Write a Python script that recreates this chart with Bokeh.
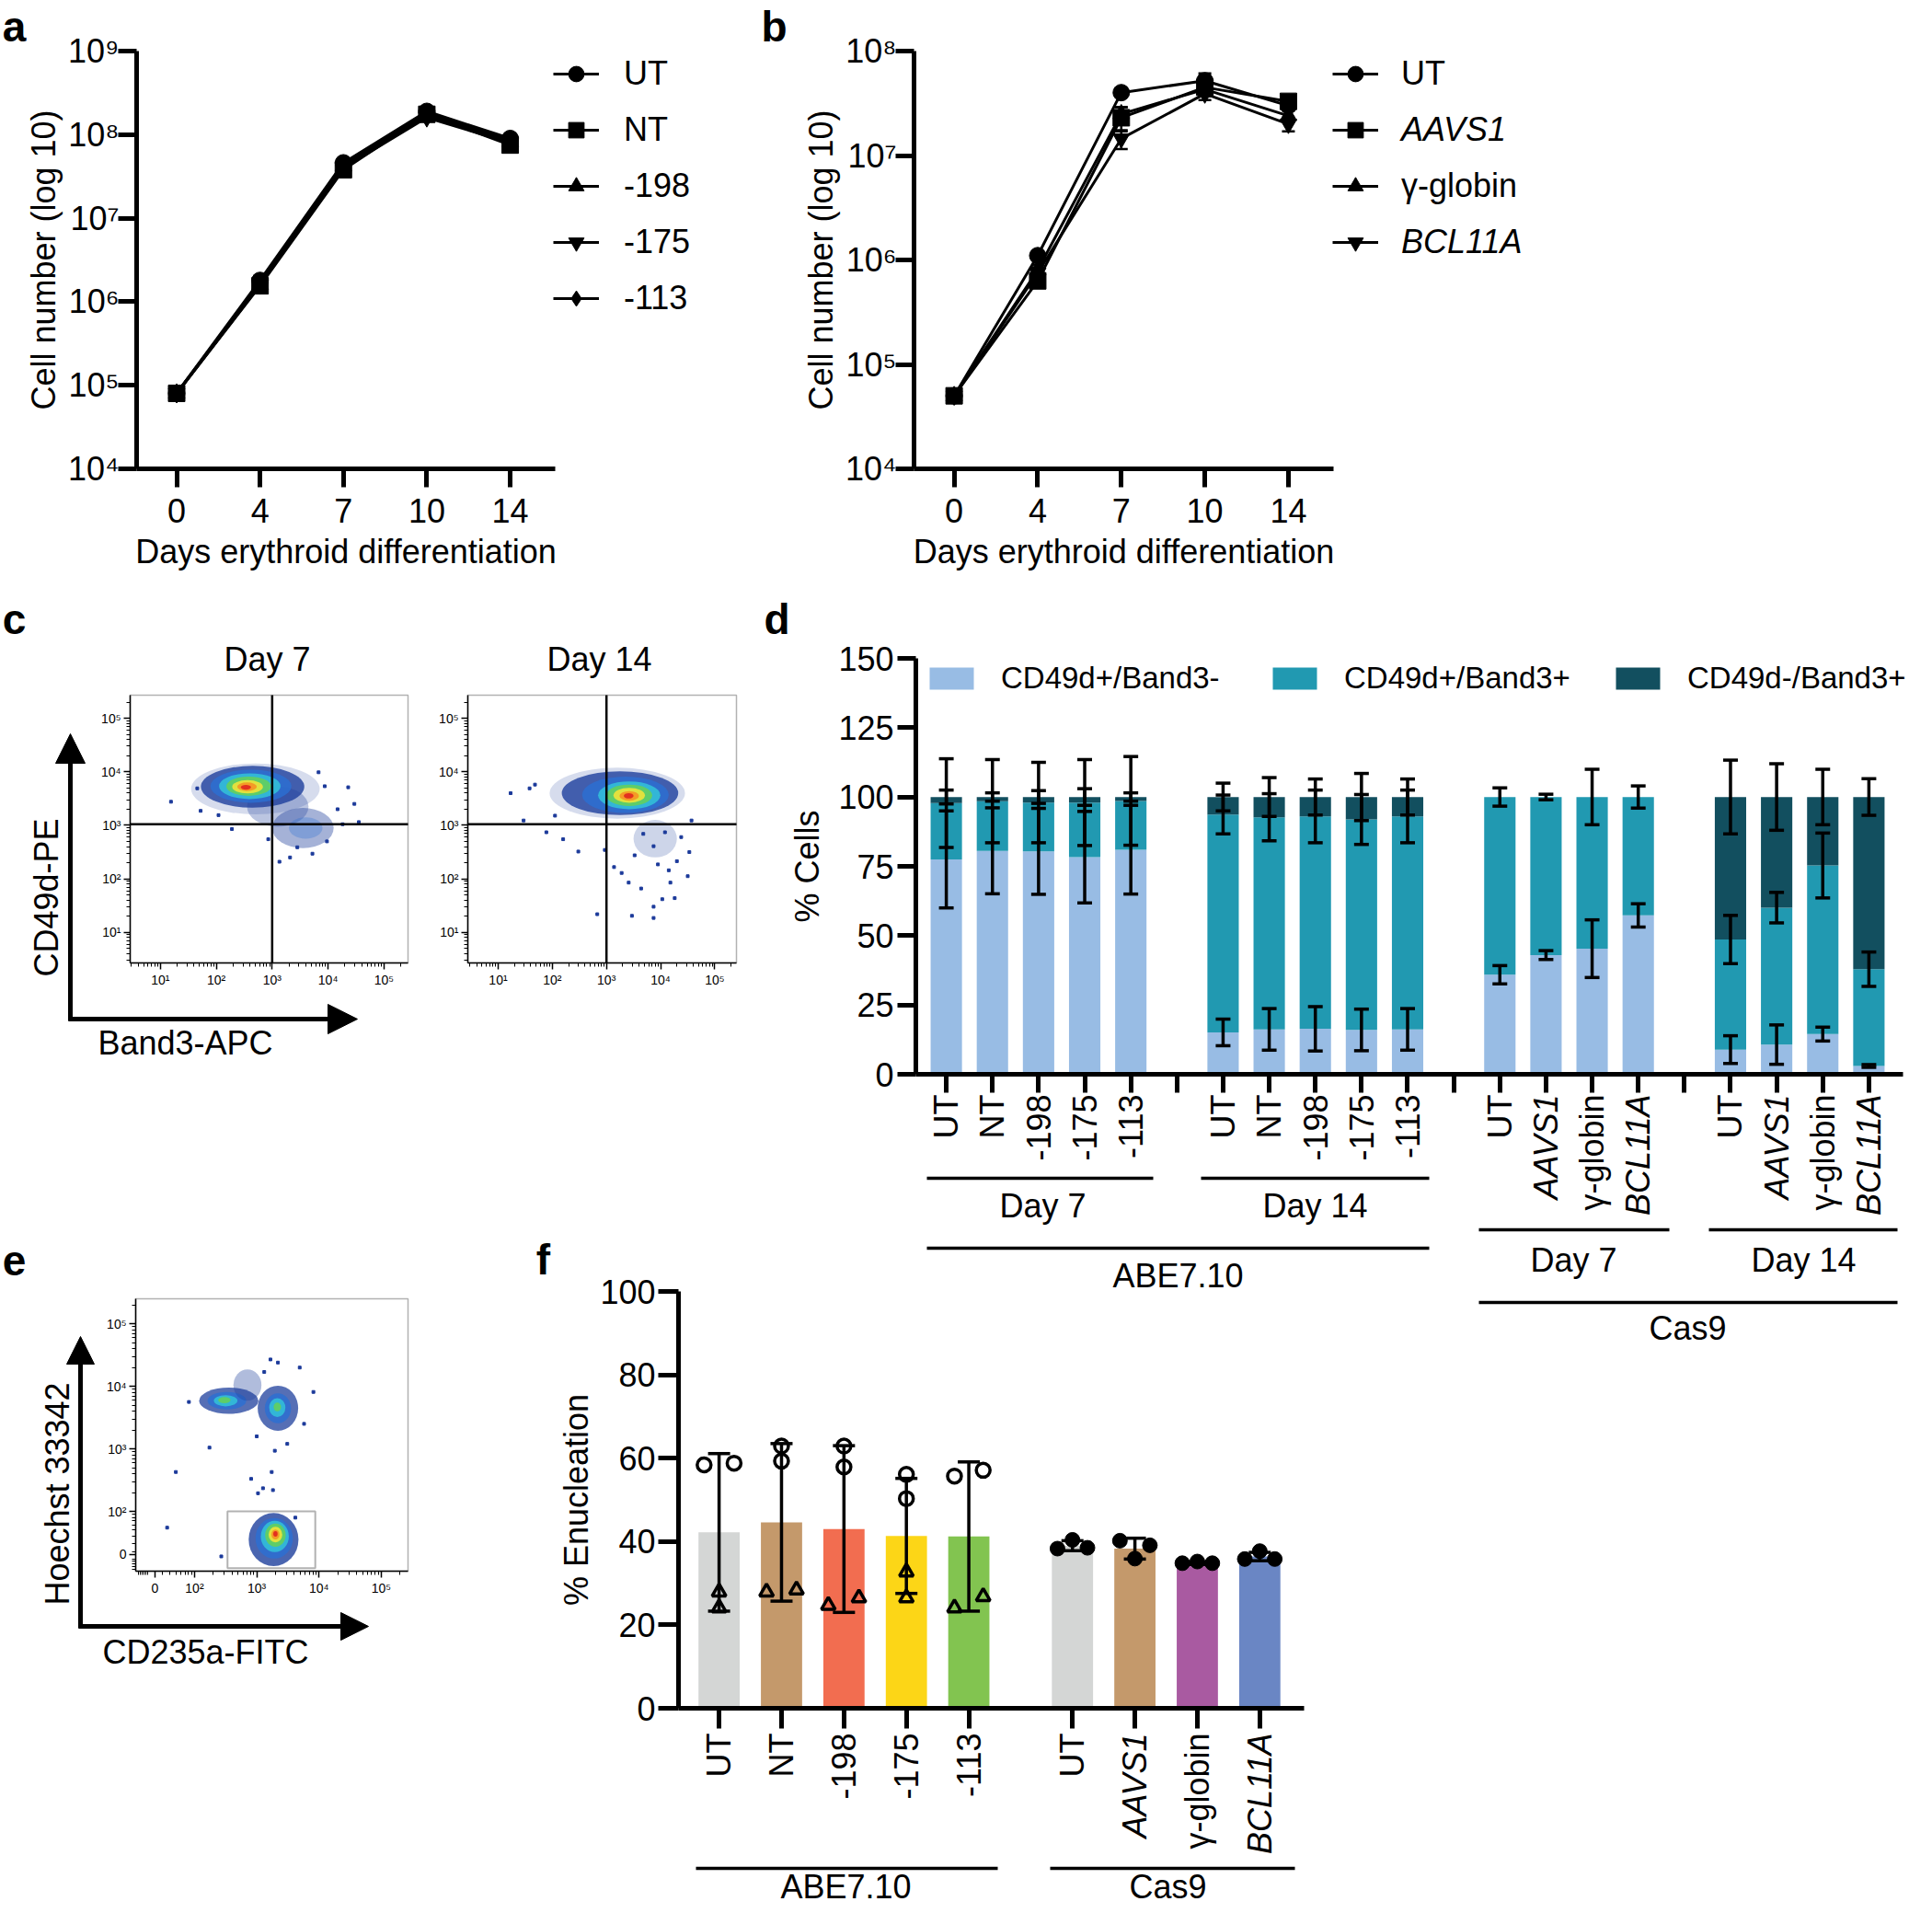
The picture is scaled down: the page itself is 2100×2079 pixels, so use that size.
import math
from bokeh.plotting import figure
from bokeh.layouts import row, column
from bokeh.models import (Range1d, FixedTicker, CustomJSTickFormatter, Legend, LegendItem,
                          Label, Arrow, NormalHead, TeeHead, Whisker, ColumnDataSource,
                          BoxAnnotation, LinearAxis, LogAxis)
from bokeh.embed import file_html
from bokeh.resources import INLINE

FONT = "Liberation Sans"
FS = "36px"
BLACK = "black"

# ======================= DATA =======================
days = ["0", "4", "7", "10", "14"]

# panel a
a_labels = ["UT", "NT", "-198", "-175", "-113"]
a_UT = [8.0e4, 1.8e6, 4.6e7, 1.9e8, 9.0e7]
a_NT = [8.0e4, 1.55e6, 3.8e7, 1.75e8, 7.5e7]
a_m198 = [8.0e4, 1.6e6, 4.2e7, 1.7e8, 8.2e7]
a_m175 = [8.0e4, 1.6e6, 4.0e7, 1.6e8, 8.0e7]
a_m113 = [8.0e4, 1.7e6, 4.4e7, 1.8e8, 8.5e7]

# panel b
b_labels = ["UT", "AAVS1", "γ-globin", "BCL11A"]
b_italic = [False, True, False, True]
b_UT = [5.0e4, 1.1e6, 4.0e7, 5.2e7, 3.0e7]
b_AAVS1 = [5.0e4, 6.3e5, 2.3e7, 4.5e7, 3.3e7]
b_globin = [5.0e4, 8.0e5, 2.5e7, 4.3e7, 2.4e7]
b_BCL11A = [5.0e4, 7.5e5, 1.45e7, 3.9e7, 2.0e7]
b_UT_sd = [0, 1.0e5, 3.0e6, 9.0e6, 3.0e6]
b_AAVS1_sd = [0, 8.0e4, 6.0e6, 8.0e6, 4.0e6]
b_globin_sd = [0, 1.0e5, 4.0e6, 6.0e6, 3.0e6]
b_BCL11A_sd = [0, 1.0e5, 3.0e6, 5.0e6, 3.0e6]

# panel c (flow cytometry, log10 units)
c_gate = [3.0, 3.02]
c7_blob_x = [2.70, 3.10, 3.55, 3.60, 2.65, 2.62, 2.60, 2.58, 2.56, 2.55, 2.53]
c7_blob_y = [3.68, 3.35, 2.95, 2.95, 3.72, 3.73, 3.73, 3.73, 3.72, 3.72, 3.71]
c7_blob_w = [2.30, 1.10, 1.10, 0.60, 1.85, 1.45, 1.10, 0.80, 0.55, 0.35, 0.18]
c7_blob_h = [0.95, 0.75, 0.75, 0.40, 0.78, 0.62, 0.48, 0.36, 0.25, 0.16, 0.09]
c7_blob_c = ["#1d3f9c", "#1d3f9c", "#1d3f9c", "#2b6fd3", "#1d3f9c", "#2b6fd3", "#33c3d8", "#63cf5d", "#efe33a", "#f69323", "#e02a1f"]
c7_blob_a = [0.18, 0.30, 0.40, 0.30, 0.80, 0.80, 0.85, 0.90, 0.90, 0.90, 0.95]
c7_pts_x = [1.19, 1.72, 1.66, 2.28, 3.13, 3.32, 3.72, 3.83, 4.36, 4.47, 4.55, 4.26, 3.98, 3.45, 2.93, 4.17, 3.94, 2.04]
c7_pts_y = [3.44, 3.27, 3.69, 2.93, 2.32, 2.40, 2.47, 3.99, 3.71, 3.40, 3.06, 3.02, 2.70, 2.59, 2.74, 3.30, 3.73, 3.19]

c14_blob_x = [3.20, 3.90, 3.25, 3.35, 3.42, 3.42, 3.42, 3.42, 3.41]
c14_blob_y = [3.60, 2.75, 3.60, 3.57, 3.56, 3.56, 3.56, 3.55, 3.55]
c14_blob_w = [2.50, 0.80, 2.15, 1.60, 1.15, 0.85, 0.58, 0.36, 0.18]
c14_blob_h = [0.95, 0.70, 0.82, 0.68, 0.52, 0.40, 0.28, 0.18, 0.10]
c14_blob_c = ["#1d3f9c", "#1d3f9c", "#1d3f9c", "#2b6fd3", "#33c3d8", "#63cf5d", "#efe33a", "#f69323", "#e02a1f"]
c14_blob_a = [0.18, 0.22, 0.80, 0.80, 0.85, 0.90, 0.90, 0.90, 0.95]
c14_pts_x = [1.23, 1.58, 1.68, 1.47, 1.89, 2.20, 2.48, 2.05, 2.97, 3.14, 3.28, 3.41, 3.64, 3.87, 4.03, 4.26,
             4.18, 4.50, 4.53, 3.87, 3.68, 4.08, 4.30, 3.47, 2.83, 3.87, 3.95, 3.52, 4.15, 4.38, 4.57]
c14_pts_y = [3.60, 3.69, 3.76, 3.09, 2.87, 2.74, 2.51, 3.18, 2.54, 2.22, 2.11, 1.93, 1.82, 1.48, 1.62, 1.64,
             1.93, 2.05, 2.50, 2.61, 2.84, 2.87, 2.33, 1.31, 1.34, 1.27, 2.27, 2.44, 2.16, 2.78, 3.09]

# panel d
d_cats = ["UT", "NT", "-198", "-175", "-113", "UT", "NT", "-198", "-175", "-113",
          "UT", "AAVS1", "γ-globin", "BCL11A", "UT", "AAVS1", "γ-globin", "BCL11A"]
d_group_sizes = [5, 5, 4, 4]
d_series = ["CD49d+/Band3-", "CD49d+/Band3+", "CD49d-/Band3+"]
d_light = [77.5, 80.6, 80.4, 78.3, 81.0, 15.1, 16.2, 16.4, 16.0, 16.2, 35.9, 43.0, 45.3, 57.3, 8.9, 10.7, 14.5, 3.0]
d_mid = [20.3, 17.9, 17.6, 19.7, 17.6, 78.6, 76.5, 76.6, 75.9, 76.8, 64.1, 57.0, 54.7, 42.7, 39.7, 49.4, 60.8, 34.9]
d_dark = [2.2, 1.5, 2.0, 2.0, 1.4, 6.3, 7.3, 7.0, 8.1, 7.0, 0.0, 0.0, 0.0, 0.0, 51.4, 39.9, 24.7, 62.1]
d_light_sd = [17.5, 15.5, 15.5, 16.5, 16.0, 4.8, 7.5, 8.0, 7.5, 7.5, 3.3, 1.6, 10.4, 4.2, 5.0, 7.1, 2.5, 0.5]
d_mid_sd = [16.0, 15.0, 14.5, 15.5, 16.0, 7.0, 8.5, 9.5, 9.0, 9.5, 3.3, 1.0, 10.0, 4.0, 8.7, 5.5, 11.7, 6.2]
d_dark_sd = [2.5, 1.5, 2.3, 3.0, 1.5, 5.0, 7.0, 6.5, 8.5, 6.5, 0.0, 0.0, 0.0, 0.0, 13.3, 12.0, 10.0, 6.6]

# panel e (flow cytometry, log10-like units)
e_gate = [2.53, 3.94, 1.09, 2.0]
e_blob_x = [2.55, 2.52, 2.50, 2.48, 2.85, 3.34, 3.34, 3.33, 3.33, 3.27, 3.28, 3.29, 3.30, 3.30, 3.30, 3.30]
e_blob_y = [3.77, 3.77, 3.77, 3.78, 4.02, 3.65, 3.65, 3.66, 3.67, 1.55, 1.57, 1.60, 1.62, 1.63, 1.63, 1.64]
e_blob_w = [0.95, 0.62, 0.38, 0.20, 0.45, 0.65, 0.42, 0.26, 0.12, 0.80, 0.60, 0.45, 0.33, 0.22, 0.13, 0.07]
e_blob_h = [0.42, 0.28, 0.18, 0.10, 0.50, 0.72, 0.48, 0.30, 0.14, 0.85, 0.65, 0.50, 0.37, 0.25, 0.16, 0.09]
e_blob_c = ["#1d3f9c", "#2b6fd3", "#33c3d8", "#63cf5d", "#1d3f9c", "#1d3f9c", "#2b6fd3", "#33c3d8", "#63cf5d",
            "#1d3f9c", "#2b6fd3", "#33c3d8", "#63cf5d", "#efe33a", "#f69323", "#e02a1f"]
e_blob_a = [0.75, 0.80, 0.85, 0.90, 0.35, 0.75, 0.80, 0.85, 0.90, 0.80, 0.80, 0.85, 0.90, 0.90, 0.90, 0.95]
e_pts_x = [1.91, 2.24, 1.70, 1.56, 2.91, 3.02, 3.24, 3.26, 3.34, 3.22, 3.69, 3.49, 3.29, 2.43, 3.12, 3.91, 3.76, 3.00, 3.10, 3.62]
e_pts_y = [3.75, 3.02, 2.63, 1.74, 2.52, 2.29, 2.63, 2.34, 4.38, 4.43, 4.30, 3.08, 2.97, 1.28, 4.23, 3.91, 3.40, 3.20, 2.37, 1.90]

# panel f
f_cats = ["UT", "NT", "-198", "-175", "-113", "UT", "AAVS1", "γ-globin", "BCL11A"]
f_group_sizes = [5, 4]
f_groups = ["ABE7.10", "Cas9"]
f_mean = [42.2, 44.6, 43.0, 41.35, 41.2, 39.0, 38.3, 34.8, 36.4]
f_sd = [18.9, 18.9, 20.0, 13.8, 17.9, 1.2, 2.5, 0.3, 1.0]
f_colors = ["#D4D6D5", "#C4996B", "#F26D50", "#FCD617", "#82C450", "#D4D6D5", "#C4996B", "#A95AA1", "#6A86C4"]
f_circ_bar = [0, 0, 1, 1, 2, 2, 3, 3, 4, 4]
f_circ_val = [58.4, 58.8, 62.9, 59.3, 62.9, 57.9, 56.1, 50.3, 55.7, 57.1]
f_circ_dx = [-0.24, 0.24, 0, 0, 0, 0, 0, 0, -0.23, 0.23]
f_tri_bar = [0, 0, 1, 1, 2, 2, 3, 3, 4, 4]
f_tri_val = [27.9, 24.1, 27.9, 28.4, 24.7, 26.5, 32.7, 26.5, 24.1, 26.8]
f_tri_dx = [0, 0, -0.24, 0.24, -0.25, 0.24, 0, 0, -0.23, 0.23]
f_dot_bar = [5, 5, 5, 6, 6, 6, 7, 7, 7, 8, 8, 8]
f_dot_val = [38.3, 40.4, 38.5, 40.2, 35.9, 39.1, 34.8, 35.2, 34.8, 35.8, 37.7, 35.8]
f_dot_dx = [-0.24, 0, 0.24] * 4

ITALIC = {"AAVS1", "BCL11A"}

# ======================= HELPERS =======================
class Fr:
    """Plot area of a panel in page pixels plus the data values at its edges."""
    def __init__(self, left, top, right, bottom, x0, x1, y0, y1, ylog=False):
        self.l, self.t, self.r, self.b = left, top, right, bottom
        self.x0, self.x1, self.y0, self.y1 = x0, x1, y0, y1
        self.ylog = ylog

    def x(self, X):
        t = (X - self.l) / (self.r - self.l)
        return self.x0 + t * (self.x1 - self.x0)

    def y(self, Y):
        t = (self.b - Y) / (self.b - self.t)
        if self.ylog:
            a, b = math.log10(self.y0), math.log10(self.y1)
            return 10 ** (a + t * (b - a))
        return self.y0 + t * (self.y1 - self.y0)


def make_fig(cx, cy, w, h, fr, ylog=False):
    # the frame covers the whole canvas; axes are placed with fixed_location
    p = figure(width=w, height=h,
               x_range=Range1d(fr.x(cx), fr.x(cx + w)),
               y_range=Range1d(fr.y(cy + h), fr.y(cy)),
               y_axis_type="log" if ylog else "linear",
               x_axis_location=None, y_axis_location=None,
               output_backend="svg", toolbar_location=None, title=None, min_border=0)
    p.outline_line_color = None
    p.grid.visible = False
    p.background_fill_color = "white"
    p.border_fill_color = "white"
    return p


def add_axes(p, fr, ylog=False):
    xa = LinearAxis(fixed_location=fr.y0, bounds=(fr.x0, fr.x1))
    ya = (LogAxis if ylog else LinearAxis)(fixed_location=fr.x0, bounds=(fr.y0, fr.y1))
    p.add_layout(xa, "below")
    p.add_layout(ya, "left")
    return xa, ya


def style_axis(ax, lw=5, tick_out=20, standoff=4, title_standoff=4, size=FS):
    ax.axis_line_width = lw
    ax.axis_line_color = BLACK
    ax.major_tick_line_width = lw
    ax.major_tick_line_color = BLACK
    ax.major_tick_out = tick_out
    ax.major_tick_in = 0
    ax.minor_tick_line_color = None
    ax.major_label_text_font = FONT
    ax.major_label_text_font_size = size
    ax.major_label_text_color = BLACK
    ax.major_label_standoff = standoff
    ax.axis_label_text_font = FONT
    ax.axis_label_text_font_size = size
    ax.axis_label_text_font_style = "normal"
    ax.axis_label_text_color = BLACK
    ax.axis_label_standoff = title_standoff


def unlabeled_ticks(ax, ticks, lw=5, tick_out=20):
    # tick marks only (drawn as minor ticks so that no empty labels exist)
    ax.ticker = FixedTicker(ticks=[], minor_ticks=ticks)
    ax.minor_tick_line_color = BLACK
    ax.minor_tick_line_width = lw
    ax.minor_tick_out = tick_out
    ax.minor_tick_in = 0


def txt(p, fr, X, Y, s, size=FS, angle=0.0, align="center", baseline="middle", style="normal"):
    p.add_layout(Label(x=fr.x(X), y=fr.y(Y), text=s, angle=angle, text_align=align,
                       text_baseline=baseline, text_font=FONT, text_font_size=size,
                       text_font_style=style, text_color=BLACK))


def seg(p, fr, X0, Y0, X1, Y1, lw=3.5, head=None):
    p.add_layout(Arrow(x_start=fr.x(X0), y_start=fr.y(Y0), x_end=fr.x(X1), y_end=fr.y(Y1),
                       start=None, end=head, line_width=lw, line_color=BLACK))


def letter(p, fr, X, Y, s):
    txt(p, fr, X, Y, s, size="46px", style="bold")


def mk_legend(items, loc, italic=False, gw=50, gh=42, lh=42, standoff=25, spacing=19,
              size=FS, orientation="vertical", label_width=20):
    return Legend(items=items, location=loc, orientation=orientation, glyph_width=gw,
                  glyph_height=gh, label_height=lh, label_width=label_width,
                  label_standoff=standoff, spacing=spacing, padding=0, margin=0,
                  border_line_color=None, background_fill_alpha=0,
                  label_text_font=FONT, label_text_font_size=size,
                  label_text_font_style="italic" if italic else "normal",
                  label_text_color=BLACK)


SUP = "const s = {'0':'\u2070','1':'\u00b9','2':'\u00b2','3':'\u00b3','4':'\u2074','5':'\u2075','6':'\u2076','7':'\u2077','8':'\u2078','9':'\u2079'};\n"
SUP_LOG = SUP + "const e = Math.round(Math.log10(tick));\nreturn '10' + String(e).split('').map(c => s[c]).join('');"
SUP_C = SUP + "return '10' + s[String(Math.round(tick))];"
SUP_E = SUP + "if (tick < 1.8) { return '0'; }\nreturn '10' + s[String(Math.round(tick))];"

ROW1_H, ROW2_H, ROW3_H = 640, 700, 737
ROW2_Y = ROW1_H
ROW3_Y = ROW1_H + ROW2_H

# ======================= PANEL a =======================
xs_days = list(range(len(days)))
fra = Fr(148, 55, 603, 509, -0.48, 4.54, 1e4, 1e9, ylog=True)
pa = make_fig(0, 0, 828, ROW1_H, fra, ylog=True)
xa, ya = add_axes(pa, fra, ylog=True)
a_markers = ["circle", "square", "triangle", "inverted_triangle", "diamond"]
a_sizes = [18, 18, 18, 18, 21]
items = []
for lab, vals, mk, sz in zip(a_labels, [a_UT, a_NT, a_m198, a_m175, a_m113], a_markers, a_sizes):
    l = pa.line(xs_days, vals, line_width=3, line_color=BLACK)
    s = pa.scatter(xs_days, vals, marker=mk, size=sz, fill_color=BLACK, line_color=BLACK)
    items.append(LegendItem(label=lab, renderers=[l, s]))
pa.add_layout(mk_legend(items, (601, ROW1_H - 345), standoff=27))
style_axis(xa, standoff=12, title_standoff=8)
style_axis(ya, standoff=-1, title_standoff=3)
xa.ticker = FixedTicker(ticks=xs_days)
xa.major_label_overrides = {i: d for i, d in enumerate(days)}
ya.ticker = FixedTicker(ticks=[1e4, 1e5, 1e6, 1e7, 1e8, 1e9])
ya.formatter = CustomJSTickFormatter(code=SUP_LOG)
xa.axis_label = "Days erythroid differentiation"
ya.axis_label = "Cell number (log 10)"
letter(pa, fra, 15, 28, "a")

# ======================= PANEL b =======================
frb = Fr(993, 55, 1449, 509, -0.48, 4.54, 1e4, 1e8, ylog=True)
pb = make_fig(828, 0, 1270, ROW1_H, frb, ylog=True)
xb, yb = add_axes(pb, frb, ylog=True)
b_markers = ["circle", "square", "triangle", "inverted_triangle"]
b_vals = [b_UT, b_AAVS1, b_globin, b_BCL11A]
b_sds = [b_UT_sd, b_AAVS1_sd, b_globin_sd, b_BCL11A_sd]
b_rend = {}
for i in [3, 2, 1, 0]:
    vals, sds = b_vals[i], b_sds[i]
    src = ColumnDataSource(dict(x=xs_days, up=[v + e for v, e in zip(vals, sds)],
                                lo=[v - e for v, e in zip(vals, sds)]))
    pb.add_layout(Whisker(source=src, base="x", upper="up", lower="lo", dimension="height",
                          line_width=2.5, line_color=BLACK, level="glyph",
                          upper_head=TeeHead(size=14, line_width=2.5, line_color=BLACK),
                          lower_head=TeeHead(size=14, line_width=2.5, line_color=BLACK)))
    l = pb.line(xs_days, vals, line_width=3, line_color=BLACK)
    s = pb.scatter(xs_days, vals, marker=b_markers[i], size=18, fill_color=BLACK, line_color=BLACK)
    b_rend[i] = [l, s]
for i, lab in enumerate(b_labels):
    pb.add_layout(mk_legend([LegendItem(label=lab, renderers=b_rend[i])], (620, ROW1_H - 101 - 61 * i),
                            italic=b_italic[i], standoff=25))
style_axis(xb, standoff=12, title_standoff=8)
style_axis(yb, standoff=-1, title_standoff=3)
xb.ticker = FixedTicker(ticks=xs_days)
xb.major_label_overrides = {i: d for i, d in enumerate(days)}
yb.ticker = FixedTicker(ticks=[1e4, 1e5, 1e6, 1e7, 1e8])
yb.formatter = CustomJSTickFormatter(code=SUP_LOG)
xb.axis_label = "Days erythroid differentiation"
yb.axis_label = "Cell number (log 10)"
letter(pb, frb, 841, 28, "b")


# ======================= PANEL c =======================
def flow_axes(p, fr, xt, xmin, yt, ymin, code):
    xa_, ya_ = add_axes(p, fr)
    for ax, t, mt in ((xa_, xt, xmin), (ya_, yt, ymin)):
        ax.ticker = FixedTicker(ticks=t, minor_ticks=mt)
        ax.formatter = CustomJSTickFormatter(code=code)
        ax.axis_line_width = 1.5
        ax.axis_line_color = BLACK
        ax.major_tick_line_width = 1.5
        ax.major_tick_out = 7
        ax.major_tick_in = 0
        ax.minor_tick_line_width = 1
        ax.minor_tick_line_color = BLACK
        ax.minor_tick_out = 4
        ax.minor_tick_in = 0
        ax.major_label_text_font = FONT
        ax.major_label_text_font_size = "14px"
        ax.major_label_text_color = BLACK
        ax.major_label_standoff = 3
    p.add_layout(BoxAnnotation(left=fr.x0, right=fr.x1, bottom=fr.y0, top=fr.y1, fill_alpha=0,
                               line_color=BLACK, line_width=1.5))


def log_minor(lo, hi, decades):
    return [n + math.log10(k) for n in decades for k in range(2, 10) if lo < n + math.log10(k) < hi]


def flow_draw(p, bx, by, bw, bh, bc, ba, px_, py_):
    p.scatter(px_, py_, marker="square", size=3, color="#1c3a9a")
    p.ellipse(x=bx, y=by, width=bw, height=bh, fill_color=bc, fill_alpha=ba, line_color=None)


def gate_lines(p, fr, gx, gy):
    p.segment(x0=[gx, fr.x0], y0=[fr.y0, gy], x1=[gx, fr.x1], y1=[fr.y1, gy],
              line_color=BLACK, line_width=2.5)


frc1 = Fr(141, 755, 443, 1046, 0.46, 5.43, 0.43, 5.43)
pc1 = make_fig(0, ROW2_Y, 470, ROW2_H, frc1)
flow_draw(pc1, c7_blob_x, c7_blob_y, c7_blob_w, c7_blob_h, c7_blob_c, c7_blob_a, c7_pts_x, c7_pts_y)
gate_lines(pc1, frc1, c_gate[0], c_gate[1])
flow_axes(pc1, frc1, [1, 2, 3, 4, 5], log_minor(0.46, 5.43, range(0, 6)),
          [1, 2, 3, 4, 5], log_minor(0.43, 5.43, range(0, 6)), SUP_C)
letter(pc1, frc1, 15, 672, "c")
txt(pc1, frc1, 290, 716, "Day 7")
seg(pc1, frc1, 76, 1109, 76, 797, lw=5, head=NormalHead(size=32, fill_color=BLACK, line_color=BLACK))
seg(pc1, frc1, 74, 1107, 388, 1107, lw=5, head=NormalHead(size=32, fill_color=BLACK, line_color=BLACK))
txt(pc1, frc1, 50, 975, "CD49d-PE", angle=math.pi / 2)
txt(pc1, frc1, 201, 1133, "Band3-APC")

frc2 = Fr(508, 755, 800, 1046, 0.44, 5.40, 0.43, 5.43)
pc2 = make_fig(470, ROW2_Y, 358, ROW2_H, frc2)
flow_draw(pc2, c14_blob_x, c14_blob_y, c14_blob_w, c14_blob_h, c14_blob_c, c14_blob_a, c14_pts_x, c14_pts_y)
gate_lines(pc2, frc2, c_gate[0], c_gate[1])
flow_axes(pc2, frc2, [1, 2, 3, 4, 5], log_minor(0.44, 5.40, range(0, 6)),
          [1, 2, 3, 4, 5], log_minor(0.43, 5.43, range(0, 6)), SUP_C)
txt(pc2, frc2, 651, 716, "Day 14")

# ======================= PANEL d =======================
d_x = []
pos = 0
for n in d_group_sizes:
    d_x += [pos + i for i in range(n)]
    pos += n + 1
d_ticks = list(range(pos - 1))

frd = Fr(995, 715, 2068, 1167, -0.66, 20.74, 0, 150)
pdd = make_fig(828, ROW2_Y, 1270, ROW2_H, frd)
xd, yd = add_axes(pdd, frd)
src_d = ColumnDataSource(dict(x=d_x, light=d_light, mid=d_mid, dark=d_dark))
d_colors = ["#98BCE4", "#2199B1", "#124F5F"]
rs = pdd.vbar_stack(["light", "mid", "dark"], x="x", width=0.68, source=src_d,
                    fill_color=d_colors, line_color=None)
cum_l = d_light
cum_m = [a + b for a, b in zip(d_light, d_mid)]
cum_d = [a + b + c for a, b, c in zip(d_light, d_mid, d_dark)]
for tops, sds in ((cum_l, d_light_sd), (cum_m, d_mid_sd), (cum_d, d_dark_sd)):
    xx = [x for x, s in zip(d_x, sds) if s > 0]
    up = [t + s for t, s in zip(tops, sds) if s > 0]
    lo = [t - s for t, s in zip(tops, sds) if s > 0]
    pdd.add_layout(Whisker(source=ColumnDataSource(dict(x=xx, up=up, lo=lo)), base="x",
                           upper="up", lower="lo", dimension="height", level="overlay",
                           line_width=3.5, line_color=BLACK,
                           upper_head=TeeHead(size=16, line_width=3.5, line_color=BLACK),
                           lower_head=TeeHead(size=16, line_width=3.5, line_color=BLACK)))
d_items = [LegendItem(label=lab, renderers=[r]) for lab, r in zip(d_series, rs)]
pdd.add_layout(mk_legend(d_items, (176, ROW3_Y - 756), gw=60, gh=30, lh=30, standoff=24, spacing=0,
                         size="33px", orientation="horizontal", label_width=289))
style_axis(xd, tick_out=20)
style_axis(yd, standoff=4, title_standoff=10)
unlabeled_ticks(xd, d_ticks)
yd.ticker = FixedTicker(ticks=[0, 25, 50, 75, 100, 125, 150])
yd.axis_label = "% Cells"
letter(pdd, frd, 844, 672, "d")
for x, lab in zip(d_x, d_cats):
    pdd.add_layout(Label(x=x, y=frd.y(1189), text=lab, angle=math.pi / 2, text_align="right",
                         text_baseline="middle", text_font=FONT, text_font_size=FS,
                         text_font_style="italic" if lab in ITALIC else "normal", text_color=BLACK))

# group lines / names under panel d (page pixels); the lower ones fall in the canvas of panel f
D_LINES = [(1007, 1253, 1280), (1305, 1553, 1280), (1007, 1553, 1356),
           (1607, 1814, 1336), (1857, 2062, 1336), (1607, 2062, 1415)]
D_TEXTS = [("Day 7", 1133, 1310), ("Day 14", 1429, 1310), ("ABE7.10", 1280, 1386),
           ("Day 7", 1710, 1369), ("Day 14", 1960, 1369), ("Cas9", 1834, 1443)]


def add_d_groups(p, fr, ylo, yhi):
    for X0, X1, Y in D_LINES:
        if ylo <= Y < yhi:
            seg(p, fr, X0, Y, X1, Y, lw=3.5)
    for s, X, Y in D_TEXTS:
        if ylo <= Y < yhi:
            txt(p, fr, X, Y, s)


add_d_groups(pdd, frd, ROW2_Y, ROW3_Y)

# ======================= PANEL e =======================
fre = Fr(147, 1411, 443, 1707, 1.055, 5.43, 1.044, 5.40)
pe = make_fig(0, ROW3_Y, 576, ROW3_H, fre)
flow_draw(pe, e_blob_x, e_blob_y, e_blob_w, e_blob_h, e_blob_c, e_blob_a, e_pts_x, e_pts_y)
pe.add_layout(BoxAnnotation(left=e_gate[0], right=e_gate[1], bottom=e_gate[2], top=e_gate[3],
                            fill_alpha=0, line_color=BLACK, line_width=2))
ex_minor = [1.10, 1.13, 1.16, 1.19, 1.22, 1.25, 1.48, 1.6, 1.7, 1.78, 1.85, 1.9, 1.95] + log_minor(2, 5.43, range(2, 6))
ey_minor = [1.08, 1.12, 1.16, 1.20, 1.24, 1.36, 1.48, 1.6, 1.7, 1.78, 1.85, 1.9, 1.95] + log_minor(2, 5.40, range(2, 6))
flow_axes(pe, fre, [1.365, 2, 3, 4, 5], ex_minor, [1.31, 2, 3, 4, 5], ey_minor, SUP_E)
letter(pe, fre, 15, 1369, "e")
seg(pe, fre, 87, 1769, 87, 1452, lw=5, head=NormalHead(size=30, fill_color=BLACK, line_color=BLACK))
seg(pe, fre, 85, 1767, 400, 1767, lw=5, head=NormalHead(size=30, fill_color=BLACK, line_color=BLACK))
txt(pe, fre, 62, 1623, "Hoechst 33342", angle=math.pi / 2)
txt(pe, fre, 223, 1795, "CD235a-FITC")

# ======================= PANEL f =======================
F_GAP = 0.66
f_x = []
pos = 0.0
for n in f_group_sizes:
    f_x += [pos + i for i in range(n)]
    pos += n + F_GAP

frf = Fr(737, 1403, 1417, 1856, -0.65, 9.37, 0, 100)
pf = make_fig(576, ROW3_Y, 1522, ROW3_H, frf)
xf, yf = add_axes(pf, frf)
pf.vbar(x=f_x, top=f_mean, width=0.66, fill_color=f_colors, line_color=None)
pf.scatter([f_x[b] + d for b, d in zip(f_circ_bar, f_circ_dx)], f_circ_val, marker="circle", size=15,
           fill_alpha=0, line_color=BLACK, line_width=3.5)
pf.scatter([f_x[b] + d for b, d in zip(f_tri_bar, f_tri_dx)], f_tri_val, marker="triangle", size=15,
           fill_alpha=0, line_color=BLACK, line_width=3.5)
pf.scatter([f_x[b] + d for b, d in zip(f_dot_bar, f_dot_dx)], f_dot_val, marker="circle", size=16,
           fill_color=BLACK, line_color=BLACK)
pf.add_layout(Whisker(source=ColumnDataSource(dict(x=f_x, up=[m + s for m, s in zip(f_mean, f_sd)],
                                                   lo=[m - s for m, s in zip(f_mean, f_sd)])),
                      base="x", upper="up", lower="lo", dimension="height", level="overlay",
                      line_width=3.5, line_color=BLACK,
                      upper_head=TeeHead(size=24, line_width=3.5, line_color=BLACK),
                      lower_head=TeeHead(size=24, line_width=3.5, line_color=BLACK)))
style_axis(xf, tick_out=22)
style_axis(yf, tick_out=22, standoff=3, title_standoff=2)
unlabeled_ticks(xf, f_x, tick_out=22)
yf.ticker = FixedTicker(ticks=[0, 20, 40, 60, 80, 100])
yf.axis_label = "% Enucleation"
letter(pf, frf, 590, 1368, "f")
for x, lab in zip(f_x, f_cats):
    pf.add_layout(Label(x=x, y=frf.y(1883), text=lab, angle=math.pi / 2, text_align="right",
                        text_baseline="middle", text_font=FONT, text_font_size=FS,
                        text_font_style="italic" if lab in ITALIC else "normal", text_color=BLACK))
F_LINES = [(756, 1084, 2030), (1141, 1407, 2030)]
F_TEXTS = [(f_groups[0], 919, 2050), (f_groups[1], 1269, 2050)]
for X0, X1, Y in F_LINES:
    seg(pf, frf, X0, Y, X1, Y, lw=3.5)
for s, X, Y in F_TEXTS:
    txt(pf, frf, X, Y, s)
add_d_groups(pf, frf, ROW3_Y, ROW3_Y + ROW3_H)

layout = column(row(pa, pb), row(pc1, pc2, pdd), row(pe, pf))
open("out.html", "w").write(file_html(layout, INLINE))
